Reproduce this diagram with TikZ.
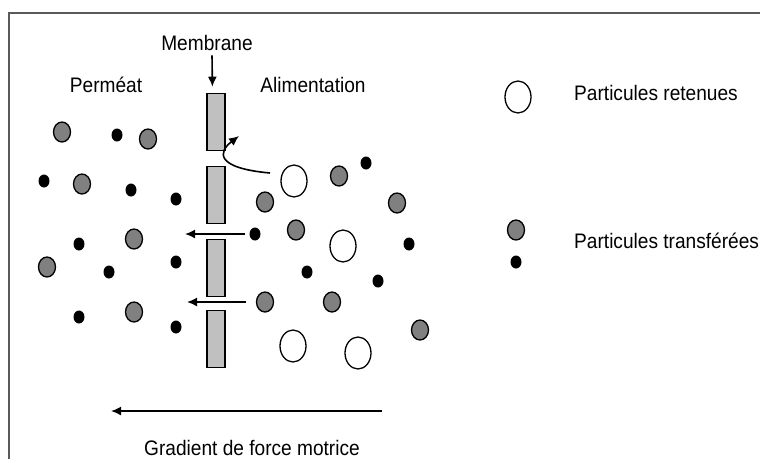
\documentclass[tikz,border=0pt]{standalone}
\usepackage{fontspec}
\setmainfont{Liberation Sans}[FakeStretch=0.91]
\usetikzlibrary{arrows.meta}
\usetikzlibrary{shapes.geometric}

\definecolor{partgray}{HTML}{808080}
\definecolor{wallgray}{HTML}{C0C0C0}
\definecolor{framegray}{HTML}{5A5A5A}

\begin{document}
\begin{tikzpicture}[x=1pt,y=-1pt]

	\tikzset{retained/.style = {shape=ellipse,draw,line width=1.3pt,fill=white,inner sep=0pt,minimum width=26pt,minimum height=32pt}}
	\tikzset{passing/.style = {shape=ellipse,draw,line width=1.3pt,fill=partgray,inner sep=0pt,minimum width=17pt,minimum height=20pt}}
	\tikzset{solute/.style = {shape=ellipse,fill=black,inner sep=0pt,minimum width=11pt,minimum height=13pt}}
	\tikzset{wall/.style = {shape=rectangle,draw,line width=1.6pt,fill=wallgray,inner sep=0pt,minimum width=18pt,minimum height=57pt}}
	\tikzset{flow/.style = {-{Latex[length=10pt,width=9pt]},line width=1.6pt}}
	\tikzset{txt/.style = {font=\fontsize{21}{23}\selectfont,inner sep=0pt,anchor=base}}

	\useasboundingbox (0,0) rectangle (760,459);
	\draw[framegray,line width=1.5pt] (9,459) -- (9,13) -- (760,13);

	% texts
	\node[txt] (lmem) at (207,50) {Membrane};
	\node[txt] (lperm) at (106,92) {Perméat};
	\node[txt] (lfeed) at (313,92) {Alimentation};
	\node[txt] (lgrad) at (252,455) {Gradient de force motrice};
	\node[txt,anchor=base west] (lret) at (574,100) {Particules retenues};
	\node[txt,anchor=base west] (ltra) at (574,248) {Particules transférées};

	% membrane
	\node[wall] (m1) at (216,122) {};
	\node[wall] (m2) at (216,195) {};
	\node[wall] (m3) at (216,268) {};
	\node[wall] (m4) at (216,339) {};

	% permeate side
	\node[passing] (t1) at (62,132) {};
	\node[solute] (s1) at (117,135) {};
	\node[passing] (t2) at (148,139) {};
	\node[solute] (s2) at (44,181) {};
	\node[passing] (t3) at (82,184) {};
	\node[solute] (s3) at (131,190) {};
	\node[solute] (s4) at (176,199) {};
	\node[solute] (s5) at (79,244) {};
	\node[passing] (t4) at (134,239) {};
	\node[passing] (t5) at (47,267) {};
	\node[solute] (s6) at (109,272) {};
	\node[solute] (s7) at (176,262) {};
	\node[solute] (s8) at (79,317) {};
	\node[passing] (t6) at (134,312) {};
	\node[solute] (s9) at (176,327) {};

	% feed side
	\node[passing] (t7) at (265,202) {};
	\node[retained] (r1) at (294,181) {};
	\node[passing] (t8) at (339,176) {};
	\node[solute] (s10) at (366,163) {};
	\node[passing] (t9) at (397,203) {};
	\node[solute] (s11) at (255,234) {};
	\node[passing] (t10) at (296,230) {};
	\node[retained] (r2) at (343,246) {};
	\node[solute] (s12) at (409,244) {};
	\node[solute] (s13) at (307,272) {};
	\node[solute] (s14) at (378,281) {};
	\node[passing] (t11) at (265,302) {};
	\node[passing] (t12) at (332,302) {};
	\node[retained] (r3) at (293,346) {};
	\node[retained] (r4) at (358,353) {};
	\node[passing] (t13) at (420,330) {};

	% legend
	\node[retained] (rl) at (518,97) {};
	\node[passing] (tl) at (516,230) {};
	\node[solute] (sl) at (516,262) {};

	% arrows
	\coordinate (tip1) at (185,234);
	\coordinate (tip2) at (187,302);
	\coordinate (back) at (270,173);
	\coordinate (tip3) at (239,136);
	\coordinate (g1) at (382,411);
	\coordinate (g2) at (111,411);
	\draw[flow,shorten >=6pt] ([xshift=5pt,yshift=-5pt]lmem.south) -- ([xshift=-3.5pt]m1.north);
	\draw[flow,shorten <=4.5pt] (s11) -- (tip1);
	\draw[flow,shorten <=9.5pt] (t11) -- (tip2);
	\draw[flow] (back) .. controls (215,168) and (218,152) .. (tip3);
	\draw[flow] (g1) -- (g2);
\end{tikzpicture}
\end{document}
